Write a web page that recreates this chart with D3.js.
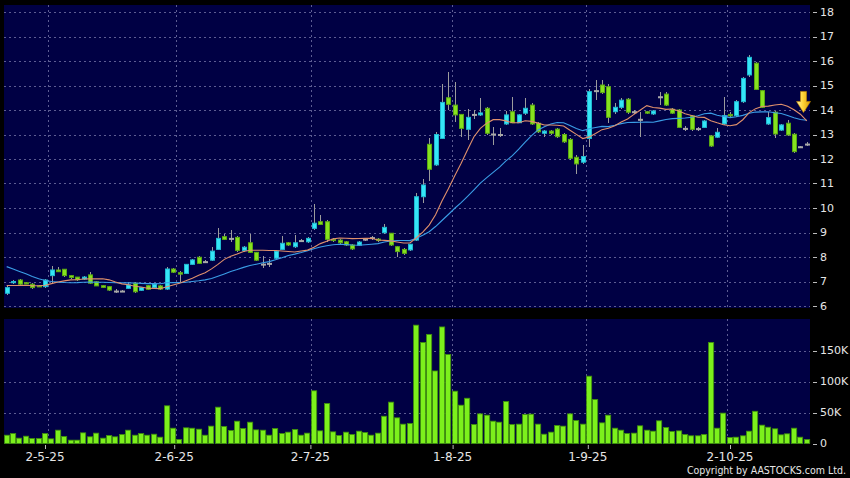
<!DOCTYPE html>
<html><head><meta charset="utf-8">
<script src="https://cdn.jsdelivr.net/npm/d3@7/dist/d3.min.js"></script>
<style>html,body{margin:0;padding:0;background:#000;}svg{display:block;}</style>
</head><body>
<svg id="chart" width="850" height="478"></svg>
<script>
// ---------------- DATA ----------------
const dates = [
"2025-04-23","2025-04-24","2025-04-25","2025-04-28","2025-04-29","2025-04-30",
"2025-05-02","2025-05-06","2025-05-07","2025-05-08","2025-05-09","2025-05-12","2025-05-13","2025-05-14","2025-05-15","2025-05-16",
"2025-05-19","2025-05-20","2025-05-21","2025-05-22","2025-05-23","2025-05-26","2025-05-27","2025-05-28","2025-05-29","2025-05-30",
"2025-06-02","2025-06-03","2025-06-04","2025-06-05","2025-06-06","2025-06-09","2025-06-10","2025-06-11","2025-06-12","2025-06-13",
"2025-06-16","2025-06-17","2025-06-18","2025-06-19","2025-06-20","2025-06-23","2025-06-24","2025-06-25","2025-06-26","2025-06-27","2025-06-30",
"2025-07-02","2025-07-03","2025-07-04","2025-07-07","2025-07-08","2025-07-09","2025-07-10","2025-07-11","2025-07-14","2025-07-15",
"2025-07-16","2025-07-17","2025-07-18","2025-07-21","2025-07-22","2025-07-23","2025-07-24","2025-07-25","2025-07-28","2025-07-29","2025-07-30","2025-07-31",
"2025-08-01","2025-08-04","2025-08-05","2025-08-06","2025-08-07","2025-08-08","2025-08-11","2025-08-12","2025-08-13","2025-08-14","2025-08-15",
"2025-08-18","2025-08-19","2025-08-20","2025-08-21","2025-08-22","2025-08-25","2025-08-26","2025-08-27","2025-08-28","2025-08-29",
"2025-09-01","2025-09-02","2025-09-03","2025-09-04","2025-09-05","2025-09-08","2025-09-09","2025-09-10","2025-09-11","2025-09-12",
"2025-09-15","2025-09-16","2025-09-17","2025-09-18","2025-09-19","2025-09-22","2025-09-23","2025-09-24","2025-09-25","2025-09-26","2025-09-29","2025-09-30",
"2025-10-02","2025-10-03","2025-10-06","2025-10-08","2025-10-09","2025-10-10","2025-10-13","2025-10-14","2025-10-15","2025-10-16","2025-10-17",
"2025-10-20","2025-10-21","2025-10-22"
];
const opens = [
6.52,6.95,7.06,6.95,6.89,6.82,6.79,7.24,7.47,7.50,7.24,7.18,7.10,7.27,6.99,6.83,6.79,6.61,6.61,6.72,
6.93,6.64,6.83,6.75,6.82,6.69,7.51,7.36,7.33,7.70,7.99,7.81,7.87,8.31,8.83,8.76,8.80,8.27,8.58,8.19,
7.71,7.74,7.95,8.31,8.58,8.42,8.67,8.62,9.17,9.44,9.44,8.72,8.69,8.62,8.49,8.48,8.73,8.79,8.73,8.99,
8.97,8.42,8.31,8.29,8.69,10.46,12.60,11.76,12.84,14.50,14.20,13.82,13.21,13.82,13.80,14.07,13.02,13.00,13.43,13.93,
13.48,13.87,14.20,13.46,13.05,13.14,13.22,13.00,12.80,12.07,11.87,12.84,14.79,15.02,14.95,13.93,14.11,14.44,13.93,13.62,
13.93,13.84,14.54,14.65,14.03,14.00,13.25,13.76,13.24,13.29,12.94,12.89,13.43,13.82,13.77,14.34,15.43,15.91,14.79,13.43,
13.91,13.18,13.46,13.01,12.50,12.61
];
const highs = [
6.80,7.05,7.12,7.00,6.92,6.86,7.10,7.62,7.58,7.52,7.28,7.20,7.22,7.38,7.02,6.86,6.81,6.68,6.66,6.99,
6.96,6.78,6.86,6.91,6.84,7.61,7.55,7.42,7.72,7.92,8.05,7.86,8.40,9.17,8.95,9.10,8.85,8.45,8.93,8.22,
8.04,7.90,8.30,8.85,8.62,8.90,8.75,8.80,10.15,9.71,9.50,8.78,8.74,8.66,8.52,8.64,8.78,8.84,8.78,9.35,
9.00,8.45,8.35,8.55,10.60,11.20,12.84,13.10,15.06,15.56,15.15,13.85,14.03,14.00,14.48,14.12,13.29,13.25,13.97,14.54,
13.85,14.48,14.30,13.50,13.20,13.18,13.25,13.05,12.85,12.15,12.57,14.85,15.22,15.22,15.05,14.30,14.50,14.50,14.00,13.93,
13.97,13.98,14.75,14.75,14.08,14.05,13.35,13.80,13.30,13.60,13.00,13.25,14.54,13.90,14.40,15.35,16.24,15.95,14.82,13.93,
13.95,13.42,13.59,13.05,12.55,12.68
];
const lows = [
6.45,6.90,6.85,6.88,6.68,6.76,6.74,6.95,7.38,7.20,7.12,7.03,7.06,6.90,6.80,6.74,6.62,6.55,6.56,6.70,
6.55,6.62,6.66,6.73,6.67,6.67,7.35,6.95,7.30,7.66,7.70,7.76,7.84,8.27,8.68,8.62,8.22,8.22,8.15,7.84,
7.54,7.60,7.90,8.28,8.45,8.38,8.60,8.58,9.10,9.30,8.62,8.62,8.55,8.45,8.28,8.45,8.66,8.70,8.62,8.95,
8.45,8.00,8.10,8.25,8.65,10.19,11.10,11.70,12.80,14.00,13.52,12.91,12.78,13.65,13.75,13.00,12.57,12.90,13.40,13.45,
13.45,13.80,13.40,13.05,12.90,13.00,12.85,12.65,11.95,11.39,11.80,12.50,14.40,14.65,13.46,13.85,14.05,13.85,13.85,12.91,
13.85,13.80,14.20,14.15,13.85,13.25,13.15,13.15,13.15,13.25,12.50,12.85,13.40,13.72,13.70,14.30,15.35,14.80,14.08,13.40,
12.86,13.15,12.95,12.25,12.45,12.52
];
const closes = [
6.75,7.00,6.89,6.90,6.75,6.80,7.06,7.47,7.40,7.24,7.16,7.07,7.18,6.93,6.82,6.76,6.65,6.61,6.61,6.86,
6.58,6.75,6.68,6.89,6.69,7.51,7.38,7.30,7.70,7.88,7.74,7.81,8.24,8.76,8.72,8.76,8.27,8.40,8.19,7.87,
7.71,7.74,8.24,8.56,8.49,8.58,8.67,8.76,9.38,9.33,8.72,8.67,8.58,8.49,8.33,8.61,8.73,8.79,8.67,9.21,
8.49,8.22,8.15,8.52,10.46,10.94,11.58,13.00,14.31,14.23,13.80,13.25,13.70,13.82,13.88,13.05,13.02,13.00,13.80,13.48,
13.80,14.07,13.43,13.11,13.14,13.05,12.91,12.70,12.03,11.80,12.10,14.75,14.79,14.71,13.70,14.11,14.40,13.91,13.93,13.62,
13.87,13.96,14.54,14.20,13.87,13.29,13.25,13.21,13.24,13.55,12.53,13.09,13.77,13.76,14.34,15.29,16.15,14.84,14.11,13.69,
13.02,13.39,12.98,12.30,12.50,12.61
];
// volume in thousands of shares
const volumes = [
13.4,16,8.6,11.8,8,8,16,7.5,21.5,11.3,5.4,5.4,17.2,10.8,16.7,8.6,12.9,10.8,14.5,21.5,
13.4,16,13.4,15,10.2,60.8,24.7,6.5,25.3,24.7,23.1,13.4,28,58.6,27.4,21,36,24.2,34.4,22,
21.5,13.4,24.2,16,18.3,22.6,13.4,16.7,85,20.4,64.5,18.8,12.9,18.3,14.5,19.9,17.7,13.4,16.7,44,
66.7,41.4,31.2,32.3,190.9,163,176,117,188,143.5,84.4,61.8,73,30.6,47.8,45.7,36,34.4,67.7,30.6,
31.2,46.8,47.3,31.2,15,18.3,29,28,47.8,37,31.2,108.6,71,33.3,45.7,24.7,21.5,16,16.7,28.5,
21.5,19.9,36.6,25.8,19.4,20.4,14.5,12.4,12.4,14.5,163,24.7,49,9.7,10.2,12.4,19.9,52,29.6,26.3,
23.7,14,15.6,24.7,10.2,6.5
];
// estimated closes of the 19 sessions before the first visible day (only feed the moving averages)
const preCloses = [9.0,8.9,8.8,8.9,8.7,8.5,8.2,7.9,7.6,7.3,7.0,6.9,6.8,6.9,6.8,6.9,6.8,6.7,6.8];
const maPeriods = [10, 20];
const priceTicks = [6,7,8,9,10,11,12,13,14,15,16,17,18];
const volTicks = [0,50,100,150];
const volTickLabels = ["0","50K","100K","150K"];
const monthStarts = ["2025-05-02","2025-06-02","2025-07-02","2025-08-01","2025-09-01","2025-10-02"];
const monthLabels = ["2-5-25","2-6-25","2-7-25","1-8-25","1-9-25","2-10-25"];
const signalPrice = 13.9; // level of the yellow arrow's tip

// ---------------- LAYOUT ----------------
const W = 850, H = 478;
const plotL = 4, plotR = 810;
const main = {top: 5, bottom: 308};
const vol = {top: 319, bottom: 444};
const C = {
  bg: "#000000", panel: "#000044", grid: "#5c5c92",
  up: "#35e6f7", upStroke: "#1fb8d0",
  down: "#86e21f", downStroke: "#5aa812",
  doji: "#a8a8a8", wick: "#9c9c9c",
  vol: "#7cf01c", volStroke: "#3f8f0c",
  ma10: "#e0906c", ma20: "#3a9de6", text: "#e6e6e6"
};
const font = "'DejaVu Sans', Verdana, sans-serif";

const svg = d3.select("#chart");
svg.append("rect").attr("width", W).attr("height", H).attr("fill", C.bg);

const x = d3.scaleBand().domain(dates).range([3.5, plotR]).paddingInner(0).paddingOuter(0);
const step = x.step();
const cx = d => x(d) + step / 2;
const y = d3.scaleLinear().domain([6, 18]).range([306, 12]);
const yv = d3.scaleLinear().domain([0, 200]).range([443.5, 319.5]);

// panels
svg.append("rect").attr("x", plotL).attr("y", main.top).attr("width", plotR - plotL)
  .attr("height", main.bottom - main.top).attr("fill", C.panel);
svg.append("rect").attr("x", plotL).attr("y", vol.top).attr("width", plotR - plotL)
  .attr("height", vol.bottom - vol.top).attr("fill", C.panel);

const defs = svg.append("defs");
defs.append("clipPath").attr("id", "clipMain").append("rect")
  .attr("x", plotL).attr("y", main.top).attr("width", plotR - plotL).attr("height", main.bottom - main.top);
const grad = defs.append("linearGradient").attr("id", "arrowGrad").attr("x1", 0).attr("x2", 1).attr("y1", 0).attr("y2", 0);
grad.append("stop").attr("offset", "0%").attr("stop-color", "#fff3a0");
grad.append("stop").attr("offset", "45%").attr("stop-color", "#ffd43a");
grad.append("stop").attr("offset", "100%").attr("stop-color", "#d99a00");

// grid lines
const gridG = svg.append("g").attr("stroke", C.grid).attr("stroke-width", 1)
  .attr("stroke-dasharray", "2,3").attr("shape-rendering", "crispEdges");
priceTicks.forEach(v => {
  gridG.append("line").attr("x1", plotL).attr("x2", plotR)
    .attr("y1", Math.round(y(v)) + 0.5).attr("y2", Math.round(y(v)) + 0.5);
});
volTicks.slice(1).forEach(v => {
  gridG.append("line").attr("x1", plotL).attr("x2", plotR)
    .attr("y1", Math.round(yv(v)) + 0.5).attr("y2", Math.round(yv(v)) + 0.5);
});
const gridX = d => Math.round(x(d) + step) + 0.5;
monthStarts.forEach(d => {
  gridG.append("line").attr("x1", gridX(d)).attr("x2", gridX(d)).attr("y1", main.top).attr("y2", main.bottom);
  gridG.append("line").attr("x1", gridX(d)).attr("x2", gridX(d)).attr("y1", vol.top).attr("y2", vol.bottom);
});

// candles
const bodyW = 5;
const candles = dates.map((d, i) => ({d, o: opens[i], h: highs[i], l: lows[i], c: closes[i], v: volumes[i]}));
const cg = svg.append("g").attr("clip-path", "url(#clipMain)");
cg.selectAll("line.wick").data(candles).join("line")
  .attr("x1", d => Math.round(cx(d.d)) + 0.5).attr("x2", d => Math.round(cx(d.d)) + 0.5)
  .attr("y1", d => y(d.h)).attr("y2", d => y(d.l))
  .attr("stroke", C.wick).attr("stroke-width", 1).attr("shape-rendering", "crispEdges");
cg.selectAll("rect.body").data(candles).join("rect")
  .attr("x", d => Math.round(cx(d.d)) - 2 + 0.5)
  .attr("width", bodyW - 1)
  .attr("y", d => y(Math.max(d.o, d.c)))
  .attr("height", d => Math.max(1, Math.abs(y(d.o) - y(d.c))))
  .attr("fill", d => d.c > d.o ? C.up : d.c < d.o ? C.down : C.doji)
  .attr("stroke", d => d.c > d.o ? C.upStroke : d.c < d.o ? C.downStroke : C.doji)
  .attr("stroke-width", 1);

// moving averages
const allCloses = preCloses.concat(closes);
const nPre = preCloses.length;
const maColors = {10: C.ma10, 20: C.ma20};
maPeriods.slice().reverse().forEach(p => {
  const pts = closes.map((c, i) => {
    const end = i + nPre;
    const win = allCloses.slice(end - p + 1, end + 1);
    return [cx(dates[i]), y(d3.mean(win))];
  });
  cg.append("path").attr("d", d3.line()(pts)).attr("fill", "none")
    .attr("stroke", maColors[p]).attr("stroke-width", 1.1);
});

// signal arrow
const ax = plotR - 6.5, tipY = y(signalPrice);
svg.append("path")
  .attr("d", `M${ax - 3},${tipY - 21} L${ax + 3},${tipY - 21} L${ax + 3},${tipY - 11} L${ax + 7},${tipY - 11} L${ax},${tipY} L${ax - 7},${tipY - 11} L${ax - 3},${tipY - 11} Z`)
  .attr("fill", "url(#arrowGrad)").attr("stroke", "#c88a00").attr("stroke-width", 0.6);

// volume bars
svg.append("g").selectAll("rect").data(candles).join("rect")
  .attr("x", d => Math.round(x(d.d)) + 0.5)
  .attr("width", step - 1.2)
  .attr("y", d => yv(d.v))
  .attr("height", d => yv(0) - yv(d.v))
  .attr("fill", C.vol).attr("stroke", C.volStroke).attr("stroke-width", 0.8);

// right axis labels
const axG = svg.append("g").attr("font-family", font).attr("font-size", 11).attr("fill", C.text);
priceTicks.forEach(v => {
  axG.append("line").attr("x1", 813).attr("x2", 817).attr("y1", Math.round(y(v)) + 0.5).attr("y2", Math.round(y(v)) + 0.5)
    .attr("stroke", "#bbbbbb");
  axG.append("text").attr("x", 820).attr("y", y(v)).attr("dy", "0.36em").text(v);
});
volTicks.forEach((v, i) => {
  axG.append("line").attr("x1", 813).attr("x2", 817).attr("y1", Math.round(yv(v)) + 0.5).attr("y2", Math.round(yv(v)) + 0.5)
    .attr("stroke", "#bbbbbb");
  axG.append("text").attr("x", 820).attr("y", yv(v)).attr("dy", "0.36em").text(volTickLabels[i]);
});

// date labels
const dG = svg.append("g").attr("font-family", font).attr("font-size", 12).attr("fill", C.text);
monthStarts.forEach((d, i) => {
  const px = gridX(d) - 0.5 + (i - 2.5) * 1.2;
  dG.append("line").attr("x1", px + 0.5).attr("x2", px + 0.5).attr("y1", 445).attr("y2", 449).attr("stroke", "#bbbbbb");
  dG.append("text").attr("x", px).attr("y", 461).attr("text-anchor", "middle").text(monthLabels[i]);
});

svg.append("text").attr("x", 846).attr("y", 474).attr("text-anchor", "end")
  .attr("font-family", "'DejaVu Sans Condensed', 'Liberation Sans Narrow', 'DejaVu Sans', sans-serif")
  .attr("font-stretch", "condensed").attr("font-size", 10.5)
  .attr("fill", C.text).text("Copyright by AASTOCKS.com Ltd.");
</script>
</body></html>
